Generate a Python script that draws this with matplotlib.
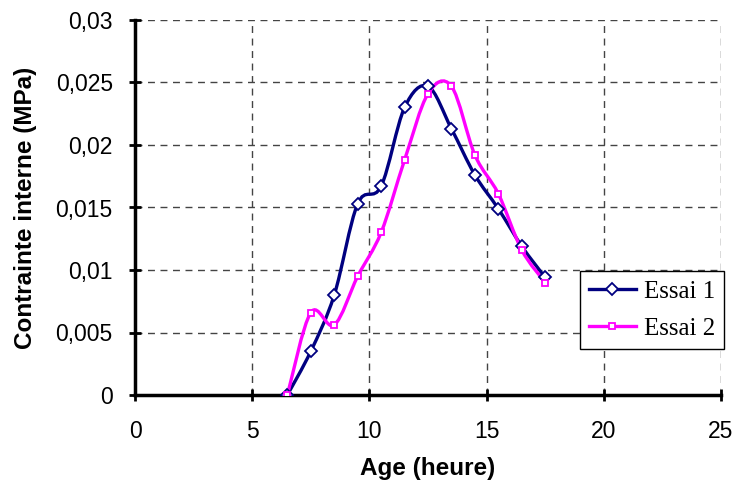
import numpy as np
import matplotlib
matplotlib.use('Agg')
import matplotlib.pyplot as plt
from matplotlib.path import Path
from matplotlib.patches import PathPatch
from matplotlib.lines import Line2D

# data
age = [6.5, 7.5, 8.5, 9.5, 10.5, 11.5, 12.5, 13.5, 14.5, 15.5, 16.5, 17.5]
essai1 = [0.0, 0.0035, 0.0080, 0.0153, 0.0167, 0.0230, 0.0247, 0.0213, 0.0176, 0.0149, 0.0119, 0.0094]
essai2 = [0.0, 0.0066, 0.0056, 0.0095, 0.0130, 0.0188, 0.0241, 0.0247, 0.0192, 0.0161, 0.0116, 0.0090]

xticks = [0, 5, 10, 15, 20, 25]
yticks = [0, 0.005, 0.01, 0.015, 0.02, 0.025, 0.03]
ytick_labels = ['0', '0,005', '0,01', '0,015', '0,02', '0,025', '0,03']

c1 = '#000080'
c2 = '#FF00FF'


# Excel style smoothed line: bezier segments through the points
def smooth_path(x, y):
    p = np.column_stack([x, y])
    n = len(p)
    verts = [p[0]]
    codes = [Path.MOVETO]
    for i in range(n - 1):
        prev = p[i - 1] if i > 0 else p[i]
        nxt = p[i + 2] if i + 2 < n else p[i + 1]
        verts.append(p[i] + (p[i + 1] - prev) / 6)
        verts.append(p[i + 1] - (nxt - p[i]) / 6)
        verts.append(p[i + 1])
        codes += [Path.CURVE4] * 3
    return Path(verts, codes)


fig = plt.figure(figsize=(7.36, 4.86), dpi=100)
ax = fig.add_axes([135/736, 1-395/486, 586/736, 375/486])

for x, y, col in [(age, essai1, c1), (age, essai2, c2)]:
    patch = PathPatch(smooth_path(x, y), facecolor='none', edgecolor=col,
                      lw=2.4, transform=ax.transData, zorder=3, clip_on=False)
    ax.add_patch(patch)

ax.plot(age, essai1, linestyle='none', marker='D', markersize=6.5,
        markerfacecolor='white', markeredgecolor=c1, markeredgewidth=1.3, zorder=4)
ax.plot(age, essai2, linestyle='none', marker='s', markersize=5,
        markerfacecolor='white', markeredgecolor=c2, markeredgewidth=1.3, zorder=4)

ax.set_xlim(0, 25)
ax.set_ylim(0, 0.03)
ax.set_xticks(xticks)
ax.set_xticklabels([str(t) for t in xticks])
ax.set_yticks(yticks)
ax.set_yticklabels(ytick_labels)
ax.tick_params(direction='inout', length=8, width=2, labelsize=16.5)
ax.tick_params(axis='x', pad=14)
ax.tick_params(axis='y', pad=12)
for lab in ax.get_xticklabels() + ax.get_yticklabels():
    lab.set_fontfamily('Liberation Sans')

ax.grid(True, color='#444444', linestyle=(0, (5, 4)), linewidth=1)
ax.spines['top'].set_visible(False)
ax.spines['right'].set_visible(False)
ax.spines['left'].set_linewidth(2.5)
ax.spines['bottom'].set_linewidth(2.5)

ax.set_xlabel('Age (heure)', fontsize=17.5, fontweight='bold', family='Liberation Sans', labelpad=10)
ax.set_ylabel('Contrainte interne (MPa)', fontsize=17.5, fontweight='bold', family='Liberation Sans', labelpad=13)

handles = [
    Line2D([], [], color=c1, lw=2.4, marker='D', markersize=6.5, markerfacecolor='white',
           markeredgecolor=c1, markeredgewidth=1.3),
    Line2D([], [], color=c2, lw=2.4, marker='s', markersize=5, markerfacecolor='white',
           markeredgecolor=c2, markeredgewidth=1.3),
]
leg = ax.legend(handles, ['Essai 1', 'Essai 2'], loc='lower left',
                bbox_to_anchor=(0.759, 0.123), prop={'family': 'Liberation Serif', 'size': 18},
                fancybox=False, framealpha=1, edgecolor='black', handlelength=1.9,
                borderpad=0.35, labelspacing=0.6, handletextpad=0.3, borderaxespad=0)
leg.get_frame().set_linewidth(1)

fig.savefig('out.png', dpi=100)
